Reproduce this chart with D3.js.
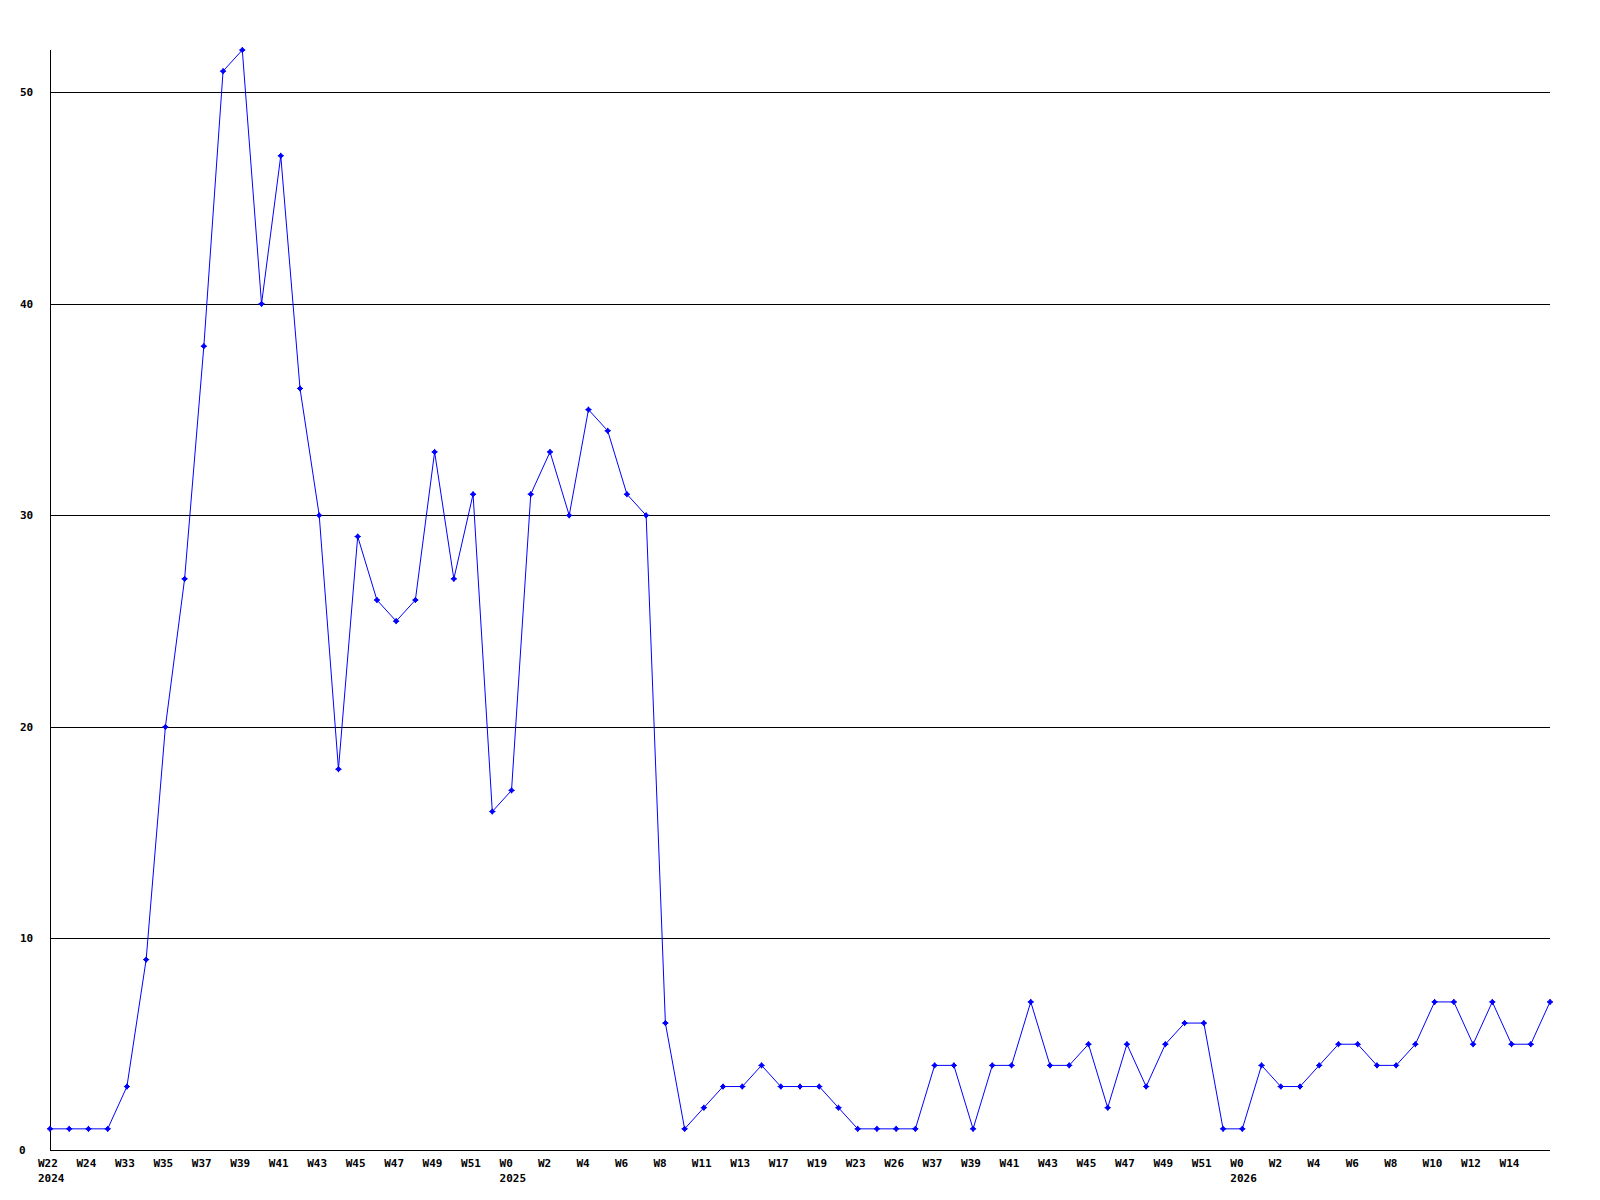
<!DOCTYPE html>
<html>
<head>
<meta charset="utf-8">
<script src="https://cdn.jsdelivr.net/npm/d3@7"></script>
<style>
  body { margin: 0; background: #fff; }
  text { font-family: "DejaVu Sans Mono", monospace; font-weight: bold; font-size: 11px; fill: #000; }
</style>
</head>
<body>
<div id="chart"></div>
<script>
const weeks = [
  'W22','W23','W24','W32','W33','W34','W35','W36','W37','W38',
  'W39','W40','W41','W42','W43','W44','W45','W46','W47','W48',
  'W49','W50','W51','W52','W0','W1','W2','W3','W4','W5',
  'W6','W7','W8','W10','W11','W12','W13','W16','W17','W18',
  'W19','W22','W23','W25','W26','W36','W37','W38','W39','W40',
  'W41','W42','W43','W44','W45','W46','W47','W48','W49','W50',
  'W51','W52','W0','W1','W2','W3','W4','W5','W6','W7',
  'W8','W9','W10','W11','W12','W13','W14','W15','W16'
];
const years = { 0: '2024', 24: '2025', 62: '2026' };
const counts = [
  1, 1, 1, 1, 3, 9, 20, 27, 38, 51,
  52, 40, 47, 36, 30, 18, 29, 26, 25, 26,
  33, 27, 31, 16, 17, 31, 33, 30, 35, 34,
  31, 30, 6, 1, 2, 3, 3, 4, 3, 3,
  3, 2, 1, 1, 1, 1, 4, 4, 1, 4,
  4, 7, 4, 4, 5, 2, 5, 3, 5, 6,
  6, 1, 1, 4, 3, 3, 4, 5, 5, 4,
  4, 5, 7, 7, 5, 7, 5, 5, 7
];
const yTicks = [0, 10, 20, 30, 40, 50];

const width = 1600, height = 1200;
const plotLeft = 50, plotRight = 1550, plotTop = 50, plotBottom = 1150;

const svg = d3.select('#chart').append('svg')
  .attr('width', width)
  .attr('height', height);

const x = d3.scalePoint()
  .domain(d3.range(weeks.length))
  .range([plotLeft, plotRight]);

const y = d3.scaleLinear()
  .domain([0, d3.max(counts)])
  .range([plotBottom, plotTop]);

// grid lines
svg.selectAll('line.grid')
  .data(yTicks.filter(t => t > 0))
  .enter().append('line')
  .attr('x1', plotLeft).attr('x2', plotRight)
  .attr('y1', t => Math.round(y(t)) + 0.5)
  .attr('y2', t => Math.round(y(t)) + 0.5)
  .attr('stroke', '#000')
  .attr('stroke-width', 1);

// axes
svg.append('line')
  .attr('x1', plotLeft + 0.5).attr('x2', plotLeft + 0.5)
  .attr('y1', plotTop).attr('y2', plotBottom)
  .attr('stroke', '#000');
svg.append('line')
  .attr('x1', plotLeft).attr('x2', plotRight)
  .attr('y1', plotBottom + 0.5).attr('y2', plotBottom + 0.5)
  .attr('stroke', '#000');

// y labels
svg.selectAll('text.ylab')
  .data(yTicks)
  .enter().append('text')
  .attr('x', t => t === 0 ? 19 : 20)
  .attr('y', t => y(t) + 4)
  .text(t => t);

// x labels (every other week)
const labelIdx = d3.range(0, weeks.length, 2).filter(i => i < weeks.length - 1);
svg.selectAll('text.xlab')
  .data(labelIdx)
  .enter().append('text')
  .attr('x', i => x(i) - 12)
  .attr('y', plotBottom + 17)
  .text(i => weeks[i]);

svg.selectAll('text.year')
  .data(Object.keys(years).map(Number))
  .enter().append('text')
  .attr('x', i => x(i) - 12)
  .attr('y', plotBottom + 32)
  .text(i => years[i]);

// line
const line = d3.line()
  .x((d, i) => x(i))
  .y(d => y(d));

svg.append('path')
  .datum(counts)
  .attr('d', line)
  .attr('fill', 'none')
  .attr('stroke', '#0000ff')
  .attr('stroke-width', 1);

// markers
svg.selectAll('path.marker')
  .data(counts)
  .enter().append('path')
  .attr('transform', (d, i) => `translate(${x(i)},${y(d)})`)
  .attr('d', 'M-2.5,0L0,-2.5L2.5,0L0,2.5Z M-3,0L3,0 M0,-3L0,3')
  .attr('fill', '#0000ff')
  .attr('stroke', '#0000ff')
  .attr('stroke-width', 1);
</script>
</body>
</html>
